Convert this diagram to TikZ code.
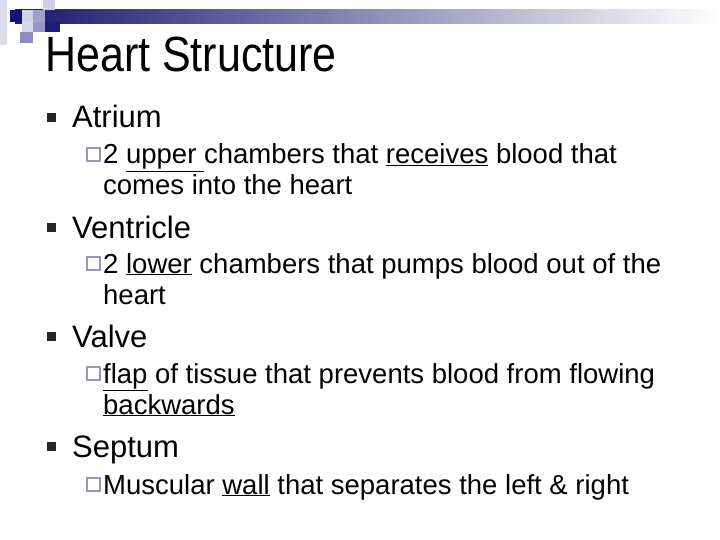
\documentclass[tikz,border=0pt]{standalone}
\usepackage{fontspec}
\setmainfont{Liberation Sans}
\definecolor{cA}{RGB}{220,220,238}
\definecolor{cB}{RGB}{205,205,232}
\definecolor{cC}{RGB}{20,20,120}
\definecolor{cD}{RGB}{210,210,235}
\definecolor{cE}{RGB}{160,160,205}
\definecolor{cF}{RGB}{215,215,238}
\definecolor{cG}{RGB}{150,150,200}
\definecolor{cH}{RGB}{30,30,120}
\definecolor{cI}{RGB}{140,140,195}
\definecolor{cbar}{RGB}{25,25,110}
\definecolor{cbul}{RGB}{150,150,190}
\begin{document}
\begin{tikzpicture}[x=1pt,y=-1pt,
 title/.style={anchor=base west,inner sep=0,font=\fontsize{43}{50}\selectfont},
 lvone/.style={anchor=base west,inner sep=0,font=\fontsize{31}{36}\selectfont},
 lvtwo/.style={anchor=base west,inner sep=0,font=\fontsize{27.5}{30}\selectfont,align=left},
 fbul/.style={fill=black!85},
 hbul/.style={draw=cbul,line width=1.2pt}]
\useasboundingbox (0,0) rectangle (720,540);
% decoration
\shade[left color=cbar,right color=white] (15,10) rectangle (720,24);
\fill[cA] (0,0) rectangle (7,45);
\fill[cB] (43,0) rectangle (55,10);
\fill[cC] (10,10) rectangle (22,22);
\fill[cD] (22,10) rectangle (33,22);
\fill[cE] (33,10) rectangle (45,22);
\fill[cF] (22,22) rectangle (33,32);
\fill[cG] (33,22) rectangle (45,32);
\fill[cH] (45,22) rectangle (60,32);
\fill[cI] (20,32) rectangle (33,43);
\node[title,yscale=1.15,transform shape] (t) at (45,72) {Heart Structure};
% bullets
\foreach \y in {128,238,347,457}{\fill[fbul] (47,\y-15) rectangle (56,\y-6);}
\foreach \y in {164,273,383,494}{\draw[hbul] (87,\y-16) rectangle (100,\y-3);}
\node[lvone] (a1) at (72,128) {Atrium};
\node[lvtwo] (a2) at (103,164) {2 \underline{upper\ }chambers that \underline{receives} blood that};
\node[lvtwo] (a3) at (103,195) {comes into the heart};
\node[lvone] (v1) at (72,238) {Ventricle};
\node[lvtwo] (v2) at (103,273) {2 \underline{lower} chambers that pumps blood out of the};
\node[lvtwo] (v3) at (103,304) {heart};
\node[lvone] (l1) at (72,347) {Valve};
\node[lvtwo] (l2) at (103,383) {\underline{flap} of tissue that prevents blood from flowing};
\node[lvtwo] (l3) at (103,414) {\underline{backwards}};
\node[lvone] (s1) at (72,457) {Septum};
\node[lvtwo] (s2) at (103,494) {Muscular \underline{wall} that separates the left \& right};
\end{tikzpicture}
\end{document}
